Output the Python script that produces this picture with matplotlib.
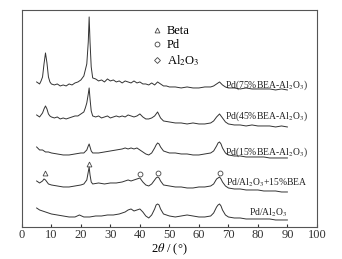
import numpy as np
import matplotlib
matplotlib.use("Agg")
import matplotlib.pyplot as plt
from matplotlib.lines import Line2D

plt.rcParams['font.family'] = ['Liberation Serif', 'DejaVu Serif']
plt.rcParams['mathtext.fontset'] = 'stix'

# XRD patterns (2theta, intensity a.u. with offsets)
bea75 = [(5, 145), (6, 143), (6.5, 146), (7, 150), (7.5, 163), (8, 174), (8.5, 164), (9, 150),
         (9.5, 145), (10, 143),
         (11, 142), (12, 143), (13, 141), (14, 142), (15, 141), (16, 143), (17, 142), (18, 144),
         (19, 145), (20, 147), (21, 151), (21.5, 157), (22, 163), (22.5, 185), (22.8, 210),
         (23.1, 185), (23.5, 160), (24, 149), (25, 148), (26, 146), (27, 147), (28, 145),
         (29, 148), (30, 146), (31, 147), (32, 145), (33, 146), (34, 144), (35, 146), (36, 145),
         (37, 144), (38, 146), (39, 144), (40, 145), (41, 143), (42, 143), (43, 142), (44, 144),
         (45, 142), (46, 145), (47, 143), (48, 141), (49, 141), (50, 140), (52, 140), (54, 139),
         (56, 140), (58, 139), (60, 139), (62, 140), (64, 140), (65, 141), (66, 143), (67, 145),
         (68, 142), (69, 140), (70, 139), (72, 139), (74, 138), (76, 139), (78, 138), (80, 138),
         (82, 138), (84, 138), (86, 137), (88, 138), (90, 137)]

bea45 = [(5, 112), (6, 110), (6.5, 112), (7, 114), (7.5, 118), (8, 121), (8.5, 118), (9, 113),
         (9.5, 111), (10, 110),
         (11, 109), (12, 110), (13, 108), (14, 109), (15, 108), (16, 109), (17, 110), (18, 111),
         (19, 111), (20, 113), (21, 115), (21.5, 119), (22, 124), (22.5, 133), (22.8, 139),
         (23.1, 128), (23.5, 116), (24, 111), (25, 110), (26, 111), (27, 109), (28, 110),
         (29, 111), (30, 109), (31, 110), (32, 111), (33, 110), (34, 111), (35, 110), (36, 112),
         (37, 111), (38, 110), (39, 111), (40, 113), (41, 110), (42, 108), (43, 108), (44, 109),
         (45, 111), (45.5, 113), (46, 115), (46.5, 112), (47, 109), (48, 106), (50, 105),
         (52, 104), (54, 104), (56, 103), (58, 104), (60, 103), (62, 103), (64, 104), (65, 106),
         (66, 110), (67, 113), (68, 109), (69, 105), (70, 103), (72, 102), (74, 102), (76, 101),
         (78, 102), (80, 101), (82, 101), (84, 101), (86, 100), (88, 101), (90, 100)]

bea15 = [(5, 80), (6, 77), (7, 77), (8, 75), (9, 75), (10, 74), (12, 73), (14, 72), (16, 72),
         (18, 73), (20, 74), (21, 74), (22, 77), (22.5, 81), (22.8, 83), (23.1, 80), (23.5, 76),
         (24, 74), (26, 74), (28, 75), (30, 76), (32, 77), (34, 78), (35, 79), (36, 78), (37, 79),
         (38, 78), (39, 79), (40, 77), (41, 75), (42, 73), (43, 72), (44, 74), (45, 79),
         (45.5, 82), (46, 84), (46.5, 83), (47, 80), (48, 76), (49, 75), (50, 74), (52, 74),
         (54, 73), (56, 73), (58, 72), (60, 72), (62, 73), (64, 74), (65, 76), (66, 81),
         (66.5, 84), (67, 85), (67.5, 83), (68, 79), (69, 74), (70, 72), (72, 71), (74, 71),
         (76, 70), (78, 70), (80, 70), (82, 70), (84, 69), (86, 69), (88, 69), (90, 69)]

mix15 = [(5, 46), (6, 44), (7, 46), (7.5, 48), (8, 47), (8.5, 45), (9, 43), (10, 42), (12, 41),
         (14, 40), (16, 40), (18, 41), (20, 42), (21, 43), (22, 47), (22.5, 55), (22.8, 60),
         (23.1, 52), (23.5, 45), (24, 43), (26, 44), (28, 43), (30, 44), (32, 44), (34, 45),
         (35, 46), (36, 47), (37, 46), (38, 47), (39, 48), (40, 49), (41, 45), (42, 42), (43, 41),
         (44, 43), (45, 47), (45.5, 49), (46, 50), (46.5, 49), (47, 46), (48, 42), (50, 41),
         (52, 40), (54, 40), (56, 39), (58, 39), (60, 40), (62, 40), (64, 41), (65, 43), (66, 48),
         (67, 50), (67.5, 48), (68, 45), (69, 41), (70, 39), (72, 38), (74, 38), (76, 37),
         (78, 37), (80, 37), (82, 36), (84, 36), (86, 36), (88, 35), (90, 35)]

pd_al = [(5, 19), (6, 17), (7, 16), (8, 15), (10, 13), (12, 12), (14, 11), (16, 10), (18, 10),
         (19.5, 12), (21, 10), (23, 10), (25, 11), (27, 11), (29, 12), (31, 12), (33, 13),
         (35, 15), (36, 17), (37, 18), (38, 16), (39, 17), (40, 18), (41, 15), (42, 11), (43, 9),
         (44, 12), (45, 18), (45.5, 22), (46, 23), (46.5, 22), (47, 18), (48, 13), (50, 11),
         (52, 10), (54, 11), (56, 12), (58, 11), (60, 10), (62, 10), (64, 11), (65, 14), (66, 20),
         (66.5, 22), (67, 23), (67.5, 21), (68, 17), (69, 12), (70, 10), (72, 9), (74, 9),
         (76, 8), (78, 8), (80, 8), (82, 8), (84, 8), (86, 7), (88, 7), (90, 7)]

curves = [bea75, bea45, bea15, mix15, pd_al]
labels = [r'Pd(75%BEA-Al$_2$O$_3$)', r'Pd(45%BEA-Al$_2$O$_3$)', r'Pd(15%BEA-Al$_2$O$_3$)',
          r'Pd/Al$_2$O$_3$+15%BEA', r'Pd/Al$_2$O$_3$']
label_pos = [(97, 142), (97, 111), (97, 75), (97, 44), (90, 14)]

# phase markers on the Pd/Al2O3+15%BEA pattern
beta_x = [7.8, 22.8]
beta_y = [54, 63]
pd_x = [40, 46.2, 67]
pd_y = [53, 54, 54]

fig = plt.figure(figsize=(3.42, 2.59), dpi=100)
ax = fig.add_axes([0.064, 0.1236, 0.8626, 0.838])

for c in curves:
    a = np.array(c)
    ax.plot(a[:, 0], a[:, 1], color='#333333', lw=0.7)

for lab, (lx, ly) in zip(labels, label_pos):
    ax.text(lx, ly, lab, ha='right', va='center', fontsize=6.9, color='#222222')

ms = dict(ls='none', mfc='none', mec='#444444', mew=0.6, ms=3.5)
ax.plot(beta_x, beta_y, marker='^', **ms)
ax.plot(pd_x, pd_y, marker='o', **ms)

handles = [Line2D([], [], marker='^', **ms),
           Line2D([], [], marker='o', **ms),
           Line2D([], [], marker='D', **dict(ms, ms=3))]
ax.legend(handles, ['Beta', 'Pd', r'Al$_2$O$_3$'], loc='upper left',
          bbox_to_anchor=(0.41, 0.97), frameon=False, fontsize=9,
          handlelength=0.8, handletextpad=0.4, labelspacing=0.15, borderpad=0.2)

ax.set_xlim(0, 100)
ax.set_ylim(0, 217)
ax.set_xticks(np.arange(0, 101, 10))
ax.set_yticks([])
ax.tick_params(axis='x', labelsize=9, length=2, pad=1.5, direction='in', colors='#333333')
for s in ax.spines.values():
    s.set_color('#555555')
    s.set_linewidth(0.8)
ax.set_xlabel(r'2$\theta$ / (°)', fontsize=9, labelpad=0)

fig.savefig('out.png', dpi=100)
